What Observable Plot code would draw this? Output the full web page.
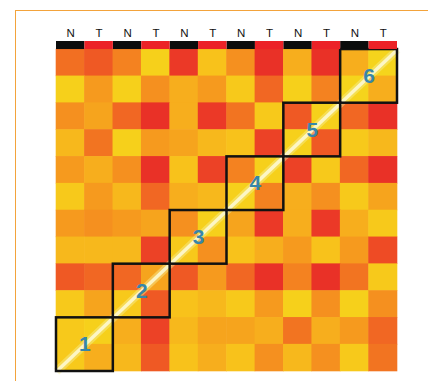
<!DOCTYPE html>
<html><head><meta charset="utf-8">
<script src="https://cdn.jsdelivr.net/npm/d3@7"></script>
<script src="https://cdn.jsdelivr.net/npm/@observablehq/plot@0.6"></script>
<style>
body{margin:0;background:#fff;}
#wrap{position:relative;width:428px;height:381px;overflow:hidden;}
#frame{position:absolute;left:15px;top:10px;right:-5px;bottom:-5px;border-top:1.5px solid #f3a33b;border-left:1.5px solid #f3a33b;}
#chart{position:absolute;left:0;top:0;}
</style></head><body>
<div id="wrap"><div id="frame"></div><div id="chart"></div></div>
<script>
// sample type per column (N = normal, T = tumour)
const sampleLabels = ["N","T","N","T","N","T","N","T","N","T","N","T"];
// similarity values, row 0 = top row of the picture, columns left to right
const row0  = [0.38,0.30,0.45,0.85,0.15,0.75,0.50,0.10,0.65,0.10,0.65,0.88];
const row1  = [0.85,0.55,0.85,0.50,0.65,0.55,0.80,0.35,0.85,0.45,0.88,0.65];
const row2  = [0.50,0.60,0.35,0.10,0.65,0.15,0.40,0.80,0.30,0.85,0.35,0.10];
const row3  = [0.70,0.40,0.85,0.55,0.60,0.70,0.75,0.20,0.85,0.30,0.80,0.70];
const row4  = [0.55,0.65,0.50,0.10,0.75,0.20,0.45,0.85,0.20,0.80,0.35,0.10];
const row5  = [0.80,0.55,0.70,0.35,0.65,0.70,0.85,0.45,0.65,0.50,0.80,0.60];
const row6  = [0.55,0.50,0.55,0.60,0.50,0.85,0.60,0.15,0.65,0.15,0.65,0.80];
const row7  = [0.70,0.70,0.70,0.20,0.80,0.50,0.75,0.65,0.55,0.75,0.55,0.25];
const row8  = [0.30,0.35,0.35,0.60,0.30,0.55,0.35,0.10,0.45,0.10,0.40,0.80];
const row9  = [0.80,0.60,0.80,0.30,0.75,0.70,0.80,0.55,0.85,0.50,0.85,0.50];
const row10 = [0.80,0.85,0.65,0.20,0.70,0.60,0.60,0.65,0.40,0.65,0.55,0.35];
const row11 = [0.80,0.65,0.70,0.30,0.75,0.65,0.75,0.50,0.70,0.50,0.80,0.40];
const rows = [row0,row1,row2,row3,row4,row5,row6,row7,row8,row9,row10,row11];
// diagonal blocks (patients), numbered from bottom-left
const blockIds = [1,2,3,4,5,6];

const n = sampleLabels.length;
const cells = [];
rows.forEach((vals, r) => vals.forEach((v, c) => cells.push({c, r: n - 1 - r, v})));
const cols = sampleLabels.map((l, i) => ({i, l}));

const plot = Plot.plot({
  width: 428, height: 381,
  marginLeft: 56, marginRight: 31, marginTop: 41, marginBottom: 10,
  x: {domain: [0, n], axis: null},
  y: {domain: [0, n + 0.3], axis: null},
  color: {type: "linear", domain: [0, 0.25, 0.5, 0.75, 1],
          range: ["#e61f29", "#ee4b25", "#f5901f", "#f8c21b", "#f3e41c"]},
  marks: [
    Plot.rect(cells, {x1: "c", x2: d => d.c + 1, y1: "r", y2: d => d.r + 1, fill: "v", inset: -0.3}),
    Plot.link(blockIds, {x1: k => 2*(k-1), y1: k => 2*(k-1), x2: k => 2*k, y2: k => 2*k,
      stroke: "#f7ef9a", strokeWidth: 8, strokeOpacity: 0.45}),
    Plot.link(blockIds, {x1: k => 2*(k-1), y1: k => 2*(k-1), x2: k => 2*k, y2: k => 2*k,
      stroke: "#fdf8d2", strokeWidth: 3.5, strokeOpacity: 0.9}),
    Plot.rect(blockIds, {x1: k => 2*(k-1), x2: k => 2*k, y1: k => 2*(k-1), y2: k => 2*k,
      fill: "none", stroke: "#111", strokeWidth: 2.5}),
    Plot.text(blockIds, {x: k => 2*k - 1, y: k => 2*k - 1, text: k => String(k),
      fill: "#3786a9", fontSize: 21, fontWeight: "bold", fontFamily: "Liberation Sans, Arial, sans-serif"}),
    Plot.rect(cols.filter(d => d.l === "N"), {x1: "i", x2: d => d.i + 1, y1: n, y2: n + 0.3, fill: "#0b0c0c"}),
    Plot.rect(cols.filter(d => d.l === "T"), {x1: "i", x2: d => d.i + 1, y1: n, y2: n + 0.3, fill: "#ec2227"}),
    Plot.text(cols, {x: d => d.i + 0.5, y: n + 0.62, text: "l", fill: "#111", fontSize: 11.5,
      fontFamily: "Liberation Sans, Arial, sans-serif"})
  ]
});
document.getElementById("chart").appendChild(plot);
</script>
</body></html>
